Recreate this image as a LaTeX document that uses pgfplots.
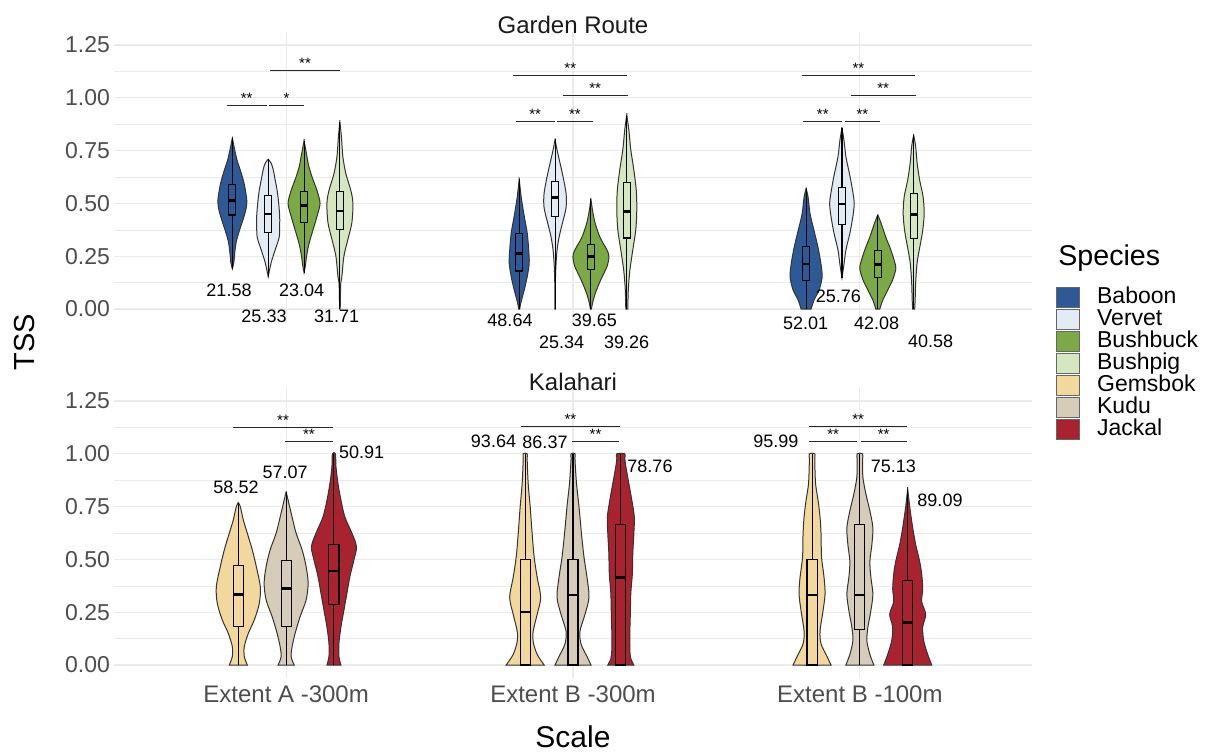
\documentclass[border=0pt]{standalone}
\usepackage{fontspec}
\setmainfont{Liberation Sans}
\usepackage{pgfplots}
\pgfplotsset{compat=1.18}
\usepackage{pgfplotstable}
\usepgfplotslibrary{statistics}

\definecolor{cBa}{HTML}{2D5A96}
\definecolor{cVe}{HTML}{E3EBF5}
\definecolor{cBu}{HTML}{7BAA44}
\definecolor{cPi}{HTML}{D4E7BF}
\definecolor{cGe}{HTML}{F2D89C}
\definecolor{cKu}{HTML}{D6CCB8}
\definecolor{cJa}{HTML}{A8232F}
\definecolor{gray30}{HTML}{4D4D4D}
\definecolor{gridc}{HTML}{EBEBEB}
\definecolor{vline}{HTML}{333333}

\newcommand{\fs}[1]{\fontsize{#1}{#1}\selectfont}

% make a closed outline: right side upwards, then left side downwards
\newcommand{\mirror}[1]{%
  \pgfplotstablesort[sort key=y, sort cmp=float >]{\tmpR}{#1}%
  \pgfplotstablecreatecol[create col/set={-1}]{s}{\tmpR}%
  \pgfplotstablecreatecol[create col/set={1}]{s}{#1}%
  \pgfplotstablevertcat{#1}{\tmpR}%
}

% ---------- violin profiles: y (TSS) and half-width w (px) ----------
% Garden Route, Extent A -300m
\pgfplotstableread{
y w
0.19 0
0.22 1.5
0.27 2.5
0.32 4
0.37 7
0.42 10.5
0.47 13.5
0.51 14.5
0.55 13.5
0.60 11.5
0.65 8.5
0.70 5
0.75 2.5
0.81 0
}\tAba
\pgfplotstableread{
y w
0.153 0
0.22 3
0.28 7
0.34 11
0.40 11.5
0.44 11.5
0.50 10.5
0.56 9
0.61 7
0.66 5
0.69 3
0.709 0
}\tAve
\pgfplotstableread{
y w
0.172 0
0.21 1.5
0.25 2.5
0.31 5
0.375 9
0.44 13
0.50 16
0.56 13
0.625 8
0.68 4.5
0.72 3
0.797 0
}\tAbu
\pgfplotstableread{
y w
0.0 0.3
0.12 0.8
0.155 2
0.25 4
0.33 8
0.41 12
0.50 13
0.56 11
0.64 6
0.72 3
0.816 1.5
0.887 0
}\tApi
% Garden Route, Extent B -300m
\pgfplotstableread{
y w
0 0.5
0.027 1.5
0.09 5
0.153 8
0.216 10
0.28 9.5
0.36 8
0.44 5
0.53 2
0.614 0
}\tBba
\pgfplotstableread{
y w
0 0.2
0.12 0.3
0.20 0.8
0.28 2
0.34 4
0.40 7
0.48 11
0.547 11
0.626 8
0.69 5
0.753 2
0.803 0
}\tBve
\pgfplotstableread{
y w
0 0.5
0.025 1.5
0.07 4
0.14 10
0.2 16
0.248 18
0.28 16
0.34 9
0.41 4
0.47 1.5
0.52 0
}\tBbu
\pgfplotstableread{
y w
0 1
0.09 1.5
0.18 3
0.28 6
0.375 9
0.47 10
0.56 9.5
0.66 7
0.754 4
0.85 2
0.92 0
}\tBpi
% Garden Route, Extent B -100m
\pgfplotstableread{
y w
0 5
0.043 8
0.09 13
0.15 16
0.21 15
0.29 12
0.37 8
0.45 4
0.53 2
0.571 0
}\tCba
\pgfplotstableread{
y w
0.148 0
0.21 2
0.28 4
0.36 8
0.44 11
0.50 12.3
0.55 11
0.63 8
0.72 4
0.80 2
0.855 0
}\tCve
\pgfplotstableread{
y w
0 2
0.043 5
0.09 10
0.14 15
0.19 18
0.22 17
0.28 13
0.34 8
0.41 3
0.445 0
}\tCbu
\pgfplotstableread{
y w
0 1
0.044 1.5
0.125 2
0.22 3.5
0.29 6
0.37 9
0.45 10.5
0.53 9.5
0.61 6
0.69 3.5
0.77 2
0.824 0
}\tCpi
% Kalahari, Extent A -300m
\pgfplotstableread{
y w
0 9
0.04 6
0.087 6
0.15 10
0.213 16
0.292 21
0.37 22
0.466 18
0.545 14
0.624 9
0.687 5
0.75 2
0.769 0
}\tDge
\pgfplotstableread{
y w
0 8
0.04 5
0.087 6
0.15 9
0.229 14
0.308 20
0.387 22
0.466 20
0.545 16
0.624 10
0.70 6
0.78 2
0.82 0
}\tDku
\pgfplotstableread{
y w
0 7
0.04 5
0.103 5
0.18 7
0.26 10
0.34 13
0.42 16
0.498 20
0.56 22.5
0.624 18
0.70 11
0.78 7
0.86 4
0.94 2
1.0 1.5
}\tDja
% Kalahari, Extent B -300m
\pgfplotstableread{
y w
0 19
0.05 12
0.11 8
0.16 8
0.24 12
0.32 15.5
0.415 12
0.51 9
0.62 7
0.75 5
0.86 3
0.97 2
1.0 2
}\tEge
\pgfplotstableread{
y w
0 18
0.04 14
0.10 8
0.16 7
0.24 12
0.32 16
0.415 14
0.51 11
0.62 8.5
0.75 6
0.86 3.5
0.97 2
1.0 2
}\tEku
\pgfplotstableread{
y w
0 13
0.03 10
0.07 9
0.15 9
0.24 9.5
0.34 10
0.43 11.5
0.53 12
0.62 13
0.70 13.5
0.78 11
0.86 8
0.94 5
0.98 4
1.0 4
}\tEja
% Kalahari, Extent B -100m
\pgfplotstableread{
y w
0 19
0.04 15
0.10 9
0.16 8
0.257 11
0.336 13
0.415 12
0.51 9.5
0.62 9
0.70 8
0.78 6
0.86 3.5
0.97 2.7
1.0 2.7
}\tFge
\pgfplotstableread{
y w
0 14
0.05 10
0.115 7
0.178 8
0.257 11
0.336 13
0.415 11
0.49 10
0.57 12
0.65 13
0.73 10
0.81 6
0.89 3
0.97 2.7
1.0 2.7
}\tFku
\pgfplotstableread{
y w
0 24
0.05 20
0.115 16
0.18 15
0.24 18
0.30 14
0.36 15
0.43 14
0.49 12
0.57 8
0.65 5
0.75 2
0.833 0
}\tFja

\mirror{\tAba}\mirror{\tAve}\mirror{\tAbu}\mirror{\tApi}
\mirror{\tBba}\mirror{\tBve}\mirror{\tBbu}\mirror{\tBpi}
\mirror{\tCba}\mirror{\tCve}\mirror{\tCbu}\mirror{\tCpi}
\mirror{\tDge}\mirror{\tDku}\mirror{\tDja}
\mirror{\tEge}\mirror{\tEku}\mirror{\tEja}
\mirror{\tFge}\mirror{\tFku}\mirror{\tFja}

% violin: center, table, colour
\newcommand{\violin}[3]{%
  \addplot[forget plot, fill=#3, draw=vline, line width=0.5pt, smooth, tension=0.5]
    table[x expr=#1+\thisrow{s}*\thisrow{w}/286.875, y=y]{#2} -- cycle;
}
% box: position, colour, lw, lq, med, uq, uw, extend
\newcommand{\bx}[8]{%
  \addplot[forget plot, draw=black, fill=#2, line width=0.55pt,
    boxplot prepared={draw direction=y, draw position=#1, lower whisker=#3, lower quartile=#4,
      median=#5, upper quartile=#6, upper whisker=#7, box extend=#8,
      whisker extend=0, every median/.style={line width=1.3pt}}] coordinates {};
}
% significance bar
\newcommand{\sig}[4]{%
  \addplot[forget plot, black!85, line width=0.5pt] coordinates {(#1,#3) (#2,#3)}
    node[pos=0.5, anchor=base, yshift=1pt, inner sep=0pt, font=\fs{7.5}, text=black] {#4};
}

\pgfplotsset{
  panel/.style={
    scale only axis, width=459pt, height=145.2pt,
    xmin=0.4, xmax=3.6, ymin=-0.0625, ymax=1.3125,
    axis line style={draw=none}, tick style={draw=none},
    xtick={1,2,3},
    ytick={0,0.25,0.5,0.75,1,1.25},
    yticklabels={0.00,0.25,0.50,0.75,1.00,1.25},
    minor ytick={0.125,0.375,0.625,0.875,1.125},
    ymajorgrids, yminorgrids, xmajorgrids,
    major grid style={draw=gridc, line width=0.55pt},
    minor grid style={draw=gridc, line width=0.3pt},
    yticklabel style={font=\fs{11.5}, text=gray30, xshift=1.5pt},
    xticklabel style={font=\fs{12}, text=gray30},
    clip=false,
  }
}

\begin{document}
\begin{tikzpicture}
\useasboundingbox (0,0) rectangle (603pt,375.5pt);

% ================= Garden Route =================
\begin{axis}[panel, at={(57pt,214.4pt)}, anchor=south west, xticklabels={},
  legend style={at={(1.0261,0.1247)}, anchor=north west, draw=none, fill=none,
    inner sep=0pt, row sep=0pt, column sep=8.5pt, font=\fs{11.5},
    nodes={inner sep=0pt, text height=8.6pt, text depth=2.4pt}},
  legend cell align=left,
  legend image code/.code={\draw[#1, draw=black!60] (0pt,-5pt) rectangle (11.5pt,5pt);}]
% Extent A -300m
\violin{0.8125}{\tAba}{cBa}
\bx{0.8125}{cBa}{0.19}{0.445}{0.513}{0.59}{0.81}{0.0244}
\violin{0.9375}{\tAve}{cVe}
\bx{0.9375}{cVe}{0.153}{0.364}{0.45}{0.538}{0.709}{0.0244}
\violin{1.0625}{\tAbu}{cBu}
\bx{1.0625}{cBu}{0.172}{0.41}{0.49}{0.557}{0.797}{0.0244}
\violin{1.1875}{\tApi}{cPi}
\bx{1.1875}{cPi}{0}{0.377}{0.464}{0.558}{0.887}{0.0244}
% Extent B -300m
\violin{1.8125}{\tBba}{cBa}
\bx{1.8125}{cBa}{0}{0.18}{0.264}{0.358}{0.614}{0.0244}
\violin{1.9375}{\tBve}{cVe}
\bx{1.9375}{cVe}{0}{0.44}{0.527}{0.603}{0.803}{0.0244}
\violin{2.0625}{\tBbu}{cBu}
\bx{2.0625}{cBu}{0}{0.185}{0.248}{0.306}{0.52}{0.0244}
\violin{2.1875}{\tBpi}{cPi}
\bx{2.1875}{cPi}{0}{0.336}{0.461}{0.60}{0.92}{0.0244}
% Extent B -100m
\violin{2.8125}{\tCba}{cBa}
\bx{2.8125}{cBa}{0}{0.137}{0.213}{0.295}{0.571}{0.0244}
\violin{2.9375}{\tCve}{cVe}
\bx{2.9375}{cVe}{0.148}{0.402}{0.497}{0.574}{0.855}{0.0244}
\violin{3.0625}{\tCbu}{cBu}
\bx{3.0625}{cBu}{0}{0.148}{0.211}{0.275}{0.445}{0.0244}
\violin{3.1875}{\tCpi}{cPi}
\bx{3.1875}{cPi}{0}{0.333}{0.447}{0.545}{0.824}{0.0244}
% significance
\sig{0.7929}{0.9323}{0.9625}{**}
\sig{0.9403}{1.0634}{0.9625}{*}
\sig{0.9438}{1.1878}{1.128}{**}
\sig{1.7919}{2.1893}{1.106}{**}
\sig{1.9641}{2.1907}{1.013}{**}
\sig{1.8002}{1.9362}{0.89}{**}
\sig{1.9442}{2.0687}{0.89}{**}
\sig{2.7972}{3.1922}{1.106}{**}
\sig{2.968}{3.1946}{1.013}{**}
\sig{2.8028}{2.9387}{0.89}{**}
\sig{2.947}{3.0702}{0.89}{**}
% numbers
\begin{scope}[every node/.style={font=\fs{9}, text=black, inner sep=0pt}]
\node at (axis cs:0.8009,0.087) {21.58};
\node at (axis cs:0.9229,-0.033) {25.33};
\node at (axis cs:1.0543,0.087) {23.04};
\node at (axis cs:1.1763,-0.033) {31.71};
\node at (axis cs:1.7804,-0.055) {48.64};
\node at (axis cs:2.0742,-0.055) {39.65};
\node at (axis cs:1.9606,-0.158) {25.34};
\node at (axis cs:2.1872,-0.158) {39.26};
\node at (axis cs:2.9248,0.062) {25.76};
\node at (axis cs:2.8112,-0.068) {52.01};
\node at (axis cs:3.0586,-0.068) {42.08};
\node at (axis cs:3.2469,-0.155) {40.58};
\end{scope}
\node[font=\fs{12}, text=black!90] at (rel axis cs:0.5,1.0234) {Garden Route};
\node[font=\fs{14.3}, anchor=west, inner sep=0pt] at (rel axis cs:1.0283,0.222) {Species};
% legend
\addlegendimage{fill=cBa}\addlegendentry{Baboon}
\addlegendimage{fill=cVe}\addlegendentry{Vervet}
\addlegendimage{fill=cBu}\addlegendentry{Bushbuck}
\addlegendimage{fill=cPi}\addlegendentry{Bushpig}
\addlegendimage{fill=cGe}\addlegendentry{Gemsbok}
\addlegendimage{fill=cKu}\addlegendentry{Kudu}
\addlegendimage{fill=cJa}\addlegendentry{Jackal}
\end{axis}

% ================= Kalahari =================
\begin{axis}[panel, at={(57pt,36.4pt)}, anchor=south west,
  xticklabels={Extent A -300m, Extent B -300m, Extent B -100m}]
\violin{0.8333}{\tDge}{cGe}
\bx{0.8333}{cGe}{0}{0.181}{0.333}{0.47}{0.769}{0.035}
\violin{1}{\tDku}{cKu}
\bx{1}{cKu}{0}{0.181}{0.361}{0.494}{0.82}{0.035}
\violin{1.1667}{\tDja}{cJa}
\bx{1.1667}{cJa}{0}{0.287}{0.445}{0.571}{1.0}{0.035}
\violin{1.8333}{\tEge}{cGe}
\bx{1.8333}{cGe}{0}{0}{0.251}{0.50}{1.0}{0.035}
\violin{2}{\tEku}{cKu}
\bx{2}{cKu}{0}{0}{0.331}{0.50}{1.0}{0.035}
\violin{2.1667}{\tEja}{cJa}
\bx{2.1667}{cJa}{0}{0}{0.415}{0.666}{1.0}{0.035}
\violin{2.8333}{\tFge}{cGe}
\bx{2.8333}{cGe}{0}{0}{0.331}{0.50}{1.0}{0.035}
\violin{3}{\tFku}{cKu}
\bx{3}{cKu}{0}{0.166}{0.331}{0.666}{1.0}{0.035}
\violin{3.1667}{\tFja}{cJa}
\bx{3.1667}{cJa}{0}{0}{0.20}{0.40}{0.833}{0.035}
% significance
\sig{0.8159}{1.1624}{1.125}{**}
\sig{0.996}{1.1624}{1.057}{**}
\sig{1.8187}{2.1638}{1.128}{**}
\sig{1.9976}{2.1593}{1.06}{**}
\sig{2.8227}{3.1653}{1.128}{**}
\sig{2.8227}{2.991}{1.056}{**}
\sig{3.0029}{3.1632}{1.056}{**}
\begin{scope}[every node/.style={font=\fs{9}, text=black, inner sep=0pt}]
\node at (axis cs:0.8253,0.841) {58.52};
\node at (axis cs:0.9962,0.911) {57.07};
\node at (axis cs:1.2634,1.005) {50.91};
\node at (axis cs:1.7229,1.06) {93.64};
\node at (axis cs:1.9024,1.053) {86.37};
\node at (axis cs:2.2684,0.939) {78.76};
\node at (axis cs:2.7069,1.06) {95.99};
\node at (axis cs:3.1165,0.939) {75.13};
\node at (axis cs:3.2793,0.781) {89.09};
\end{scope}
\node[font=\fs{12}, text=black!90] at (rel axis cs:0.5,1.02) {Kalahari};
\end{axis}

\node[rotate=90, font=\fs{14.5}] at (12.5pt,204.5pt) {TSS};
\node[font=\fs{15}, anchor=base, inner sep=0pt] at (286.5pt,2pt) {Scale};
\end{tikzpicture}
\end{document}
